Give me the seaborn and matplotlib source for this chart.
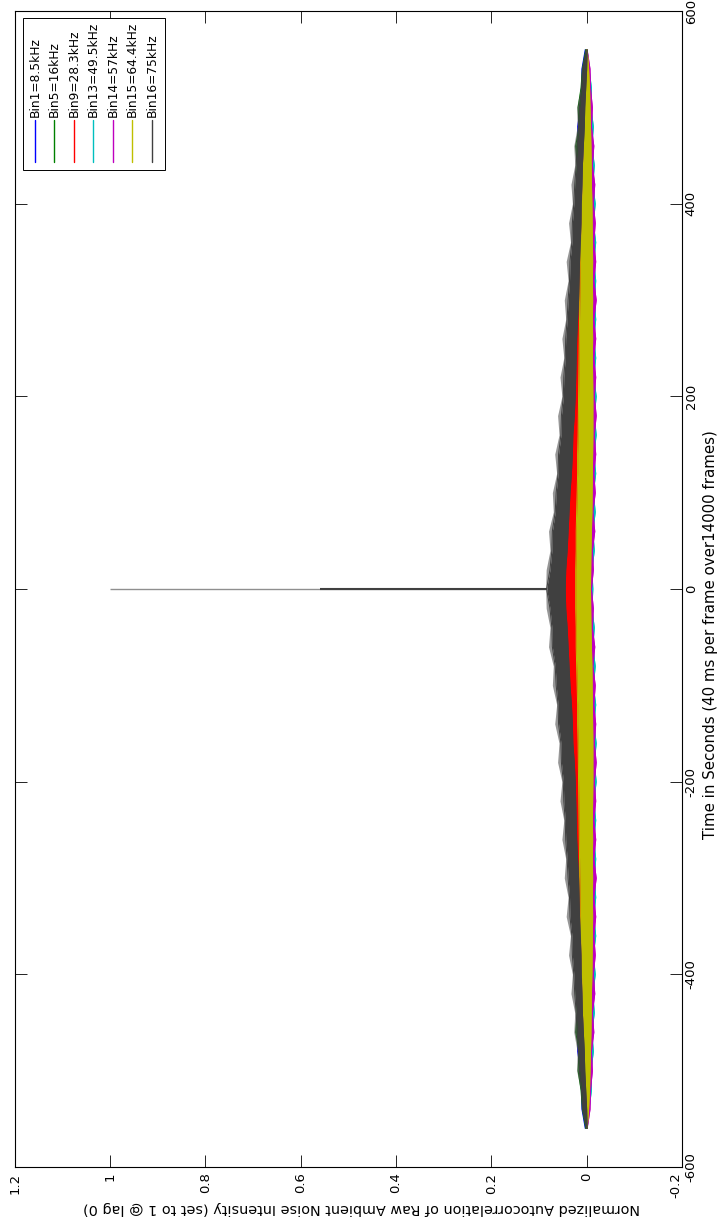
import numpy as np
import pandas as pd
import matplotlib
matplotlib.use("Agg")
import matplotlib.pyplot as plt
from matplotlib.patches import Rectangle
import seaborn as sns

# Lags in seconds (40 ms frames, 14000 frames). The autocorrelation is even in lag,
# so only the non-negative side is listed; the negative side is its mirror image.
lags_pos = [0, 20, 40, 60, 80, 100, 120, 140, 160, 180, 200, 220, 240, 260, 280,
            300, 320, 340, 360, 380, 400, 420, 440, 460, 480, 500, 520, 540, 560]

# Lower / upper extent of each normalized autocorrelation trace at those lags
bin1_lo = [0.002, 0.002, 0.001, 0.001, 0.000, 0.000, -0.001, -0.001, -0.002, -0.002, -0.002, -0.003, -0.003, -0.003,
           -0.003, -0.003, -0.003, -0.003, -0.003, -0.003, -0.003, -0.003, -0.002, -0.002, -0.002, -0.002, -0.001, -0.001, -0.001]
bin1_hi = [0.066, 0.062, 0.060, 0.057, 0.054, 0.052, 0.049, 0.047, 0.045, 0.043, 0.040, 0.038, 0.036, 0.034,
           0.032, 0.030, 0.028, 0.027, 0.025, 0.024, 0.022, 0.020, 0.019, 0.017, 0.019, 0.013, 0.011, 0.010, 0.003]

bin5_lo = [0.006, 0.006, 0.005, 0.005, 0.004, 0.004, 0.003, 0.003, 0.002, 0.002, 0.002, 0.001, 0.001, 0.001,
           0.000, 0.000, 0.000, -0.001, -0.001, -0.001, -0.001, -0.001, -0.001, -0.001, -0.001, -0.001, -0.001, -0.001, -0.001]
bin5_hi = [0.070, 0.066, 0.063, 0.060, 0.057, 0.054, 0.051, 0.049, 0.046, 0.044, 0.042, 0.040, 0.038, 0.036,
           0.034, 0.032, 0.030, 0.028, 0.026, 0.025, 0.023, 0.022, 0.020, 0.023, 0.016, 0.018, 0.012, 0.009, 0.002]

bin9_lo = [0.010, 0.010, 0.009, 0.009, 0.008, 0.008, 0.007, 0.007, 0.006, 0.006, 0.005, 0.005, 0.005, 0.004,
           0.004, 0.004, 0.003, 0.003, 0.003, 0.002, 0.002, 0.002, 0.001, 0.001, 0.001, 0.000, 0.000, 0.000, 0.000]
bin9_hi = [0.049, 0.048, 0.045, 0.043, 0.041, 0.039, 0.036, 0.034, 0.033, 0.030, 0.028, 0.027, 0.026, 0.025,
           0.023, 0.021, 0.020, 0.019, 0.017, 0.016, 0.015, 0.014, 0.012, 0.010, 0.008, 0.006, 0.004, 0.002, 0.000]

bin13_lo = [-0.013, -0.011, -0.016, -0.013, -0.018, -0.014, -0.019, -0.015, -0.020, -0.016, -0.020, -0.015, -0.019, -0.015,
            -0.019, -0.016, -0.019, -0.015, -0.019, -0.014, -0.018, -0.013, -0.016, -0.011, -0.014, -0.009, -0.010, -0.005, -0.001]
bin13_hi = [0.018, 0.018, 0.017, 0.017, 0.016, 0.015, 0.015, 0.014, 0.014, 0.013, 0.013, 0.012, 0.012, 0.012,
            0.011, 0.011, 0.010, 0.010, 0.010, 0.009, 0.008, 0.008, 0.007, 0.006, 0.005, 0.004, 0.003, 0.001, 0.000]

bin14_lo = [-0.010, -0.014, -0.012, -0.017, -0.013, -0.018, -0.015, -0.019, -0.016, -0.020, -0.016, -0.019, -0.015, -0.019,
            -0.015, -0.020, -0.015, -0.019, -0.015, -0.018, -0.014, -0.017, -0.012, -0.015, -0.010, -0.012, -0.008, -0.007, -0.001]
bin14_hi = [0.019, 0.018, 0.018, 0.017, 0.016, 0.016, 0.015, 0.015, 0.014, 0.014, 0.013, 0.013, 0.012, 0.012,
            0.012, 0.011, 0.011, 0.010, 0.010, 0.009, 0.009, 0.008, 0.007, 0.006, 0.005, 0.004, 0.003, 0.001, 0.000]

bin15_lo = [-0.008, -0.0085, -0.009, -0.010, -0.011, -0.0115, -0.012, -0.0125, -0.013, -0.013, -0.013, -0.0125, -0.012, -0.0125,
            -0.012, -0.0125, -0.012, -0.0125, -0.012, -0.0115, -0.011, -0.010, -0.0095, -0.009, -0.008, -0.007, -0.006, -0.004, -0.001]
bin15_hi = [0.023, 0.023, 0.022, 0.022, 0.021, 0.020, 0.019, 0.019, 0.018, 0.0175, 0.017, 0.0165, 0.016, 0.0155,
            0.015, 0.0145, 0.014, 0.0135, 0.013, 0.012, 0.011, 0.010, 0.009, 0.007, 0.006, 0.005, 0.003, 0.001, 0.000]

bin16_lo = [0.045, 0.044, 0.041, 0.039, 0.037, 0.035, 0.032, 0.030, 0.029, 0.026, 0.024, 0.023, 0.022, 0.021,
            0.019, 0.017, 0.016, 0.015, 0.0135, 0.012, 0.0115, 0.010, 0.009, 0.007, 0.005, 0.004, 0.002, 0.000, -0.001]
bin16_hi = [0.084, 0.077, 0.073, 0.072, 0.066, 0.064, 0.060, 0.059, 0.054, 0.053, 0.049, 0.048, 0.045, 0.044,
            0.041, 0.039, 0.036, 0.035, 0.031, 0.030, 0.027, 0.025, 0.022, 0.020, 0.017, 0.015, 0.011, 0.008, 0.001]
# occasional single-lag excursions of Bin16 beyond its main band
bin16_peak = [0.086, 0.085, 0.077, 0.080, 0.070, 0.072, 0.063, 0.067, 0.058, 0.061, 0.052, 0.056, 0.048, 0.052,
              0.044, 0.047, 0.039, 0.043, 0.034, 0.038, 0.030, 0.033, 0.025, 0.027, 0.020, 0.021, 0.013, 0.011, 0.002]

# Value at zero lag (normalization) and the dark core of the zero-lag spike
peak_lag0 = 1.0
peak_lag0_core = 0.56

series_names = ["Bin1=8.5kHz", "Bin5=16kHz", "Bin9=28.3kHz", "Bin13=49.5kHz",
                "Bin14=57kHz", "Bin15=64.4kHz", "Bin16=75kHz"]
series_colors = [(0, 0, 1), (0, 0.5, 0), (1, 0, 0), (0, 0.75, 0.75),
                 (0.75, 0, 0.75), (0.75, 0.75, 0), (0.25, 0.25, 0.25)]
series_lo = [bin1_lo, bin5_lo, bin9_lo, bin13_lo, bin14_lo, bin15_lo, bin16_lo]
series_hi = [bin1_hi, bin5_hi, bin9_hi, bin13_hi, bin14_hi, bin15_hi, bin16_hi]

value_ticks = [-0.2, 0.0, 0.2, 0.4, 0.6, 0.8, 1.0, 1.2]
value_tick_labels = ["-0.2", "0", "0.2", "0.4", "0.6", "0.8", "1", "1.2"]
time_ticks = [-600, -400, -200, 0, 200, 400, 600]
time_tick_labels = ["-600", "-400", "-200", "0", "200", "400", "600"]

value_label = "Normalized Autocorrelation of Raw Ambient Noise Intensity (set to 1 @ lag 0)"
time_label = "Time in Seconds (40 ms per frame over14000 frames)"


def both_sides(values, negate=False):
    vals = list(values)
    left = [-v for v in vals[:0:-1]] if negate else vals[:0:-1]
    return np.array(left + vals, dtype=float)


sns.set_style("white")
plt.rcParams["font.family"] = ["DejaVu Sans"]

W, H = 719, 1224
fig = plt.figure(figsize=(W / 100, H / 100), dpi=100)
fig.patch.set_facecolor("white")

# plot box in pixels: left 14.7, right 682, top 11, bottom 1167 (time runs upward)
AX_L, AX_R, AX_T, AX_B = 14.7, 682.0, 11.0, 1167.0
ax = fig.add_axes([AX_L / W, (H - AX_B) / H, (AX_R - AX_L) / W, (AX_B - AX_T) / H])


def ax_x(px):
    return (px - AX_L) / (AX_R - AX_L)


def ax_y(py):
    return (AX_B - py) / (AX_B - AX_T)


lags = both_sides(lags_pos, negate=True)

for i, (name, color, lo, hi) in enumerate(zip(series_names, series_colors, series_lo, series_hi)):
    z = 2 + 0.01 * i
    lo_full = both_sides(lo)
    hi_full = both_sides(hi)
    if name.startswith("Bin16"):
        ax.fill_betweenx(lags, hi_full, both_sides(bin16_peak), color=color, alpha=0.55,
                         lw=0, zorder=z)
    ax.fill_betweenx(lags, lo_full, hi_full, color=color, lw=0, zorder=z)
    df = pd.DataFrame({"lag": lags, "lo": lo_full, "hi": hi_full})
    for col in ("lo", "hi"):
        sns.lineplot(data=df, x=col, y="lag", orient="y", estimator=None,
                     color=color, lw=0.7, ax=ax, zorder=z, legend=False)

# zero-lag spike
ax.plot([bin16_hi[0], peak_lag0], [0, 0], color="#8f8f8f", lw=1.0, zorder=3,
        solid_capstyle="butt")
ax.plot([bin16_hi[0], peak_lag0_core], [0, 0], color=series_colors[-1], lw=1.5, zorder=3.1,
        solid_capstyle="butt")

ax.set_xlim(1.2, -0.2)
ax.set_ylim(-600, 600)
ax.set_xlabel("")
ax.set_ylabel("")
ax.set_xticks(value_ticks, value_tick_labels)
ax.set_yticks(time_ticks, time_tick_labels)
ax.tick_params(axis="both", direction="in", length=8.5, width=0.6, color="black",
               labelsize=9.5, labelcolor="black", top=True, bottom=True, left=True, right=True)
ax.tick_params(axis="y", labelleft=False, labelright=True, pad=2)
ax.tick_params(axis="x", pad=4)
for lab in ax.get_xticklabels():
    lab.set_rotation(90)
    lab.set_ha("right" if lab.get_text() == "-0.2" else "center")
    lab.set_va("top")
for lab in ax.get_yticklabels():
    lab.set_rotation(90)
    lab.set_ha("left")
    lab.set_va("center")
for sp in ax.spines.values():
    sp.set_visible(True)
    sp.set_color("black")
    sp.set_linewidth(0.8)

fig.text(362 / W, 1 - 1208 / H, value_label, rotation=180, ha="center", va="center",
         fontsize=10.4, color="black")
fig.text(710 / W, 1 - 635 / H, time_label, rotation=90, ha="center", va="center",
         fontsize=10.8, color="black")

# legend box with vertical entries
ax.add_patch(Rectangle((ax_x(23.3), ax_y(170)), ax_x(165) - ax_x(23.3), ax_y(17.7) - ax_y(170),
                       transform=ax.transAxes, facecolor="white", edgecolor="black",
                       lw=0.7, zorder=10))
entry_px = [35, 54.5, 74, 93.5, 113, 132.5, 152]
for px, name, color in zip(entry_px, series_names, series_colors):
    ax.plot([ax_x(px), ax_x(px)], [ax_y(162), ax_y(120)], transform=ax.transAxes,
            color=color, lw=1.0, zorder=11)
    ax.text(ax_x(px), ax_y(117), name, rotation=90, ha="center", va="bottom",
            transform=ax.transAxes, fontsize=8.8, color="black", zorder=11)

fig.savefig("out.png", dpi=100, facecolor="white")
